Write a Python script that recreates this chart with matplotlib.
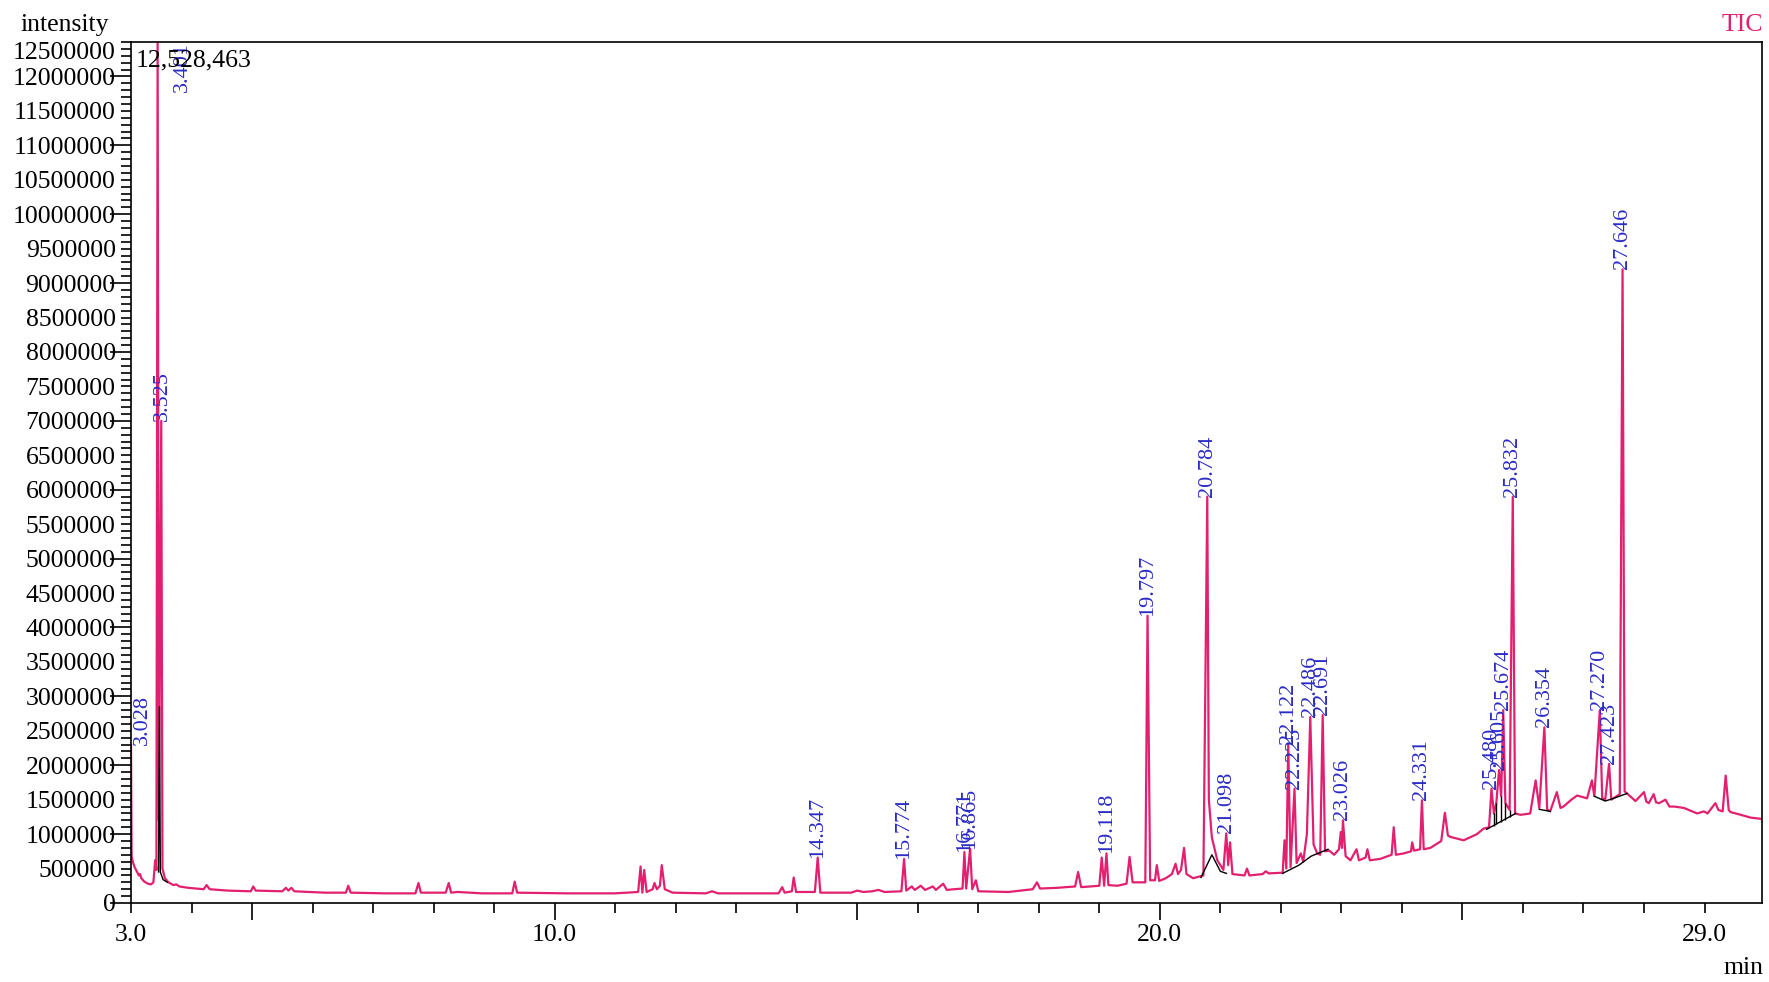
import numpy as np
import matplotlib
matplotlib.use("Agg")
import matplotlib.pyplot as plt
from matplotlib.ticker import MultipleLocator

plt.rcParams['font.family'] = ['Liberation Serif', 'DejaVu Serif']

# TIC trace, retention time (min) and intensity (x 1e6)
rt = [3.000, 3.010, 3.030, 3.060, 3.100, 3.130, 3.150, 3.170, 3.220, 3.280,
      3.330, 3.370, 3.400, 3.420, 3.440, 3.460, 3.500, 3.520, 3.560, 3.620,
      3.700, 3.750, 3.800, 3.950, 4.200, 4.250, 4.300, 4.600, 4.980, 5.020,
      5.060, 5.500, 5.560, 5.600, 5.650, 5.700, 6.200, 6.550, 6.590, 6.630,
      7.200, 7.700, 7.750, 7.790, 8.200, 8.250, 8.290, 8.400, 8.800, 9.300,
      9.340, 9.380, 10.200, 11.000, 11.380, 11.420, 11.450, 11.480, 11.520, 11.620,
      11.650, 11.690, 11.740, 11.770, 11.820, 11.950, 12.500, 12.600, 12.700, 13.700,
      13.760, 13.800, 13.920, 13.950, 13.990, 14.300, 14.347, 14.390, 14.900, 15.000,
      15.100, 15.250, 15.350, 15.450, 15.730, 15.774, 15.810, 15.900, 15.950, 16.050,
      16.120, 16.250, 16.300, 16.420, 16.480, 16.600, 16.740, 16.771, 16.800, 16.865,
      16.900, 16.960, 17.000, 17.500, 17.900, 17.970, 18.020, 18.300, 18.600, 18.650,
      18.700, 19.000, 19.040, 19.080, 19.118, 19.150, 19.300, 19.450, 19.500, 19.550,
      19.760, 19.797, 19.840, 19.920, 19.950, 19.990, 20.100, 20.200, 20.260, 20.300,
      20.350, 20.400, 20.440, 20.550, 20.720, 20.784, 20.810, 20.860, 20.950, 21.050,
      21.098, 21.130, 21.160, 21.200, 21.400, 21.440, 21.480, 21.700, 21.750, 21.800,
      22.030, 22.060, 22.090, 22.122, 22.160, 22.225, 22.260, 22.330, 22.370, 22.430,
      22.486, 22.540, 22.600, 22.650, 22.691, 22.730, 22.800, 22.880, 22.960, 22.990,
      23.010, 23.026, 23.070, 23.150, 23.250, 23.290, 23.400, 23.430, 23.470, 23.640,
      23.830, 23.865, 23.900, 24.030, 24.150, 24.170, 24.200, 24.300, 24.331, 24.360,
      24.470, 24.650, 24.710, 24.760, 24.800, 25.020, 25.240, 25.350, 25.440, 25.480,
      25.520, 25.560, 25.605, 25.640, 25.674, 25.710, 25.780, 25.832, 25.870, 25.960,
      26.120, 26.210, 26.270, 26.354, 26.400, 26.450, 26.560, 26.620, 26.670, 26.800,
      26.895, 27.060, 27.140, 27.180, 27.270, 27.310, 27.360, 27.423, 27.460, 27.600,
      27.646, 27.680, 27.720, 27.860, 28.000, 28.040, 28.080, 28.160, 28.200, 28.250,
      28.355, 28.420, 28.500, 28.660, 28.880, 28.990, 29.050, 29.180, 29.230, 29.300,
      29.350, 29.400, 29.430, 29.600, 29.760, 29.950]
tic = [2.30, 0.68, 0.60, 0.52, 0.45, 0.40, 0.42, 0.36, 0.31, 0.28,
       0.27, 0.30, 0.62, 0.48, 12.53, 1.20, 7.00, 0.50, 0.36, 0.30,
       0.26, 0.27, 0.24, 0.22, 0.20, 0.26, 0.20, 0.18, 0.17, 0.24,
       0.18, 0.17, 0.22, 0.18, 0.22, 0.17, 0.15, 0.15, 0.25, 0.15,
       0.14, 0.14, 0.29, 0.15, 0.15, 0.29, 0.15, 0.16, 0.14, 0.14,
       0.31, 0.15, 0.14, 0.14, 0.16, 0.53, 0.15, 0.48, 0.16, 0.20,
       0.29, 0.20, 0.25, 0.55, 0.20, 0.15, 0.14, 0.17, 0.14, 0.14,
       0.23, 0.15, 0.17, 0.37, 0.16, 0.16, 0.66, 0.15, 0.15, 0.18,
       0.16, 0.17, 0.19, 0.16, 0.17, 0.64, 0.18, 0.24, 0.19, 0.25,
       0.19, 0.24, 0.19, 0.28, 0.19, 0.20, 0.21, 0.74, 0.21, 0.79,
       0.20, 0.33, 0.17, 0.16, 0.20, 0.30, 0.21, 0.22, 0.24, 0.45,
       0.23, 0.25, 0.66, 0.25, 0.72, 0.26, 0.25, 0.28, 0.67, 0.30,
       0.30, 4.17, 0.33, 0.33, 0.55, 0.32, 0.36, 0.42, 0.57, 0.42,
       0.48, 0.80, 0.42, 0.36, 0.40, 5.90, 1.50, 0.95, 0.62, 0.48,
       1.01, 0.55, 0.88, 0.42, 0.40, 0.50, 0.40, 0.42, 0.46, 0.43,
       0.44, 0.91, 0.50, 2.31, 0.52, 1.66, 0.58, 0.72, 0.60, 1.00,
       2.70, 0.85, 0.72, 0.70, 2.73, 0.75, 0.76, 0.70, 0.78, 1.03,
       0.80, 1.20, 0.68, 0.62, 0.78, 0.62, 0.66, 0.78, 0.62, 0.64,
       0.70, 1.10, 0.70, 0.72, 0.75, 0.88, 0.76, 0.78, 1.49, 0.78,
       0.80, 0.90, 1.31, 0.98, 0.96, 0.91, 1.00, 1.08, 1.10, 1.66,
       1.30, 1.45, 1.93, 1.55, 2.80, 1.45, 1.35, 5.90, 1.30, 1.28,
       1.30, 1.78, 1.38, 2.55, 1.36, 1.33, 1.61, 1.38, 1.40, 1.50,
       1.56, 1.52, 1.78, 1.55, 2.80, 1.52, 1.50, 2.02, 1.50, 1.58,
       9.20, 1.62, 1.59, 1.48, 1.61, 1.47, 1.45, 1.58, 1.46, 1.45,
       1.50, 1.40, 1.40, 1.38, 1.30, 1.33, 1.30, 1.45, 1.35, 1.33,
       1.85, 1.35, 1.32, 1.28, 1.24, 1.22]

# labelled peaks
peak_rt = [3.028, 3.401, 3.525, 14.347, 15.774, 16.771, 16.865, 19.118, 19.797,
           20.784, 21.098, 22.122, 22.225, 22.486, 22.691, 23.026, 24.331, 25.480,
           25.605, 25.674, 25.832, 26.354, 27.270, 27.423, 27.646]
peak_top = [2.30, 12.53, 7.00, 0.66, 0.64, 0.74, 0.79, 0.72, 4.17,
            5.90, 1.01, 2.31, 1.66, 2.70, 2.73, 1.20, 1.49, 1.66,
            1.93, 2.80, 5.90, 2.55, 2.80, 2.02, 9.20]

# integration baselines (black)
base_rt = [[3.455, 3.470, 3.485, 3.530, 3.600],
           [20.68, 20.86, 21.00, 21.10],
           [22.03, 22.30, 22.50, 22.78],
           [25.40, 25.88],
           [26.27, 26.45],
           [27.18, 27.36, 27.50, 27.72]]
base_val = [[0.45, 2.85, 0.45, 0.34, 0.30],
            [0.37, 0.70, 0.46, 0.43],
            [0.43, 0.55, 0.68, 0.78],
            [1.07, 1.30],
            [1.36, 1.33],
            [1.55, 1.48, 1.52, 1.59]]
drop_rt = [25.52, 25.56, 25.64, 25.71, 25.78]
drop_lo = [1.12, 1.14, 1.18, 1.21, 1.25]
drop_hi = [1.30, 1.45, 1.55, 1.45, 1.35]

pink = '#E3206F'
blue = '#2B2BC6'
fs = 18.5

fig = plt.figure(figsize=(17.69, 9.82), dpi=100)
ax = fig.add_axes([0.07405, 0.08045, 0.92199, 0.87678])

scale = 1e6
for xs, ys in zip(base_rt, base_val):
    ax.plot(xs, np.array(ys) * scale, color='black', lw=1.0, zorder=3)
ax.vlines(drop_rt, np.array(drop_lo) * scale, np.array(drop_hi) * scale,
          color='black', lw=1.0, zorder=3)
ax.plot(rt, np.array(tic) * scale, color=pink, lw=1.6, zorder=2)

# peak labels (a couple are shifted by the software to stay inside the frame)
shift = {3.028: 0.16, 3.401: 0.45}
for t, h in zip(peak_rt, peak_top):
    x = t + shift.get(t, 0)
    if t == 3.401:
        ax.text(x, 12.5e6, "%.3f" % t, rotation=90, ha='center', va='top',
                color=blue, fontsize=16)
    else:
        ax.text(x, h * scale, "%.3f" % t, rotation=90, ha='center', va='bottom',
                color=blue, fontsize=16, clip_on=True)

ax.text(0.003, 0.979, "12,528,463", transform=ax.transAxes, fontsize=fs,
        va='center', ha='left')

ax.set_xlim(3.0, 29.95)
ax.set_ylim(0, 12.5e6)

xt = [3, 5, 10, 15, 20, 25, 29]
ax.set_xticks(xt, ['3.0', '', '10.0', '', '20.0', '', '29.0'])
ax.xaxis.set_minor_locator(MultipleLocator(1))
ax.tick_params(axis='x', which='both', direction='out', length=7, width=1.2,
               pad=8, labelsize=fs)
for tk, v in zip(ax.xaxis.get_major_ticks(), xt):
    if v % 5 == 0:
        tk.tick1line.set_markersize(12)

yt = np.arange(0, 12500001, 500000)
ax.set_yticks(yt, [str(int(v)) for v in yt])
ax.yaxis.set_minor_locator(MultipleLocator(100000))
ax.tick_params(axis='y', which='both', direction='out', length=7, width=1.2,
               pad=4, labelsize=fs)
for tk, v in zip(ax.yaxis.get_major_ticks(), yt):
    if v % 1000000 == 0:
        tk.tick1line.set_markersize(15)
for lab in ax.get_yticklabels():
    if lab.get_text() == '12500000':
        lab.set_va('top')

for s in ax.spines.values():
    s.set_linewidth(1.2)

fig.text(20 / 1769, 1 - 25 / 982, 'intensity', fontsize=fs, va='center', ha='left')
fig.text(1763 / 1769, 1 - 25 / 982, 'TIC', fontsize=fs, va='center', ha='right',
         color=pink)
fig.text(1763 / 1769, 1 - 968 / 982, 'min', fontsize=fs, va='center', ha='right')

fig.savefig('out.png', dpi=100)
